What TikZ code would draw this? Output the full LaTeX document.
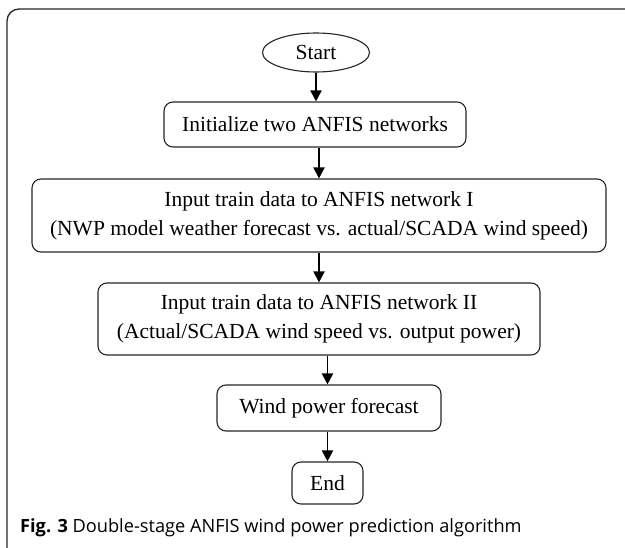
\documentclass[tikz,border=0pt]{standalone}
\usepackage{fontspec}
\setmainfont{Liberation Serif}
\newfontfamily\capfont{Open Sans}
\usepackage{tikz}
\usetikzlibrary{shapes.geometric,arrows.meta}

\tikzset{
	stepbox/.style={draw=black!85, line width=1.1pt, rounded corners=9pt, align=center,
		font=\fontsize{21.5}{29}\selectfont, inner sep=0pt},
	termbox/.style={draw=black!85, line width=1.1pt, ellipse, inner sep=0pt,
		font=\fontsize{21.5}{29}\selectfont},
	arr/.style={line width=1.9pt, -{Triangle[width=11pt,length=11pt]}}
}

\begin{document}
\begin{tikzpicture}[x=1pt,y=-1pt]
	\clip (0,0) rectangle (625,548);
	% outer frame
	\draw[black!85, line width=1.3pt, rounded corners=12pt] (7,9) rectangle (640,560);
	
	\node[termbox, minimum width=107pt, minimum height=39pt] (start) at (316,52.5) {Start};
	\node[stepbox, minimum width=302pt, minimum height=45pt] (init) at (315,124.5) {Initialize two ANFIS networks};
	\node[stepbox, minimum width=574pt, minimum height=73pt] (netI) at (319,215.5)
		{Input train data to ANFIS network I\\(NWP model weather forecast vs. actual/SCADA wind speed)};
	\node[stepbox, minimum width=442pt, minimum height=72pt] (netII) at (319,319)
		{Input train data to ANFIS network II\\(Actual/SCADA wind speed vs. output power)};
	\node[stepbox, minimum width=224pt, minimum height=46pt] (wind) at (329,408) {Wind power forecast};
	\node[stepbox, minimum width=71pt, minimum height=42pt] (end) at (327.5,483) {End};
	
	\draw[arr] (start.south) -- (start.south |- init.north);
	\draw[arr] (init.south -| netI.north) -- (netI.north);
	\draw[arr] (netI.south) -- (netI.south |- netII.north);
	\draw[arr] (netII.south -| end.north) -- (end.north |- wind.north);
	\draw[arr] (wind.south -| end.north) -- (end.north);
	
	\node[anchor=west, font=\capfont\fontsize{18.2}{20}\selectfont, inner sep=0pt] (cap) at (20,528)
		{\textbf{Fig. 3} Double-stage ANFIS wind power prediction algorithm};
\end{tikzpicture}
\end{document}
